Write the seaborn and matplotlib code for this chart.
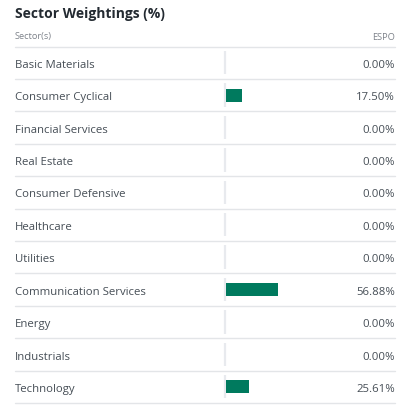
import seaborn as sns
import matplotlib.pyplot as plt
import pandas as pd
from matplotlib.transforms import blended_transform_factory

sectors = ["Basic Materials", "Consumer Cyclical", "Financial Services", "Real Estate",
           "Consumer Defensive", "Healthcare", "Utilities", "Communication Services",
           "Energy", "Industrials", "Technology"]
weights = [0.00, 17.50, 0.00, 0.00, 0.00, 0.00, 0.00, 56.88, 0.00, 0.00, 25.61]
fund = "ESPO"

df = pd.DataFrame({"sector": sectors, "weight": weights})

sns.set_theme(style="white")
plt.rcParams["font.family"] = ["Open Sans", "DejaVu Sans"]

W, H = 405, 414
fig = plt.figure(figsize=(W / 100, H / 100), dpi=100)
x0, x1 = 225.5, 395
top, bottom = 47.5, 404
ax = fig.add_axes([x0 / W, 1 - bottom / H, (x1 - x0) / W, (bottom - top) / H])

sns.barplot(data=df, x="weight", y="sector", orient="h", color="#007a5e",
            saturation=1, width=0.40, linewidth=0, ax=ax)
ax.set_xlim(0, (x1 - x0) / 0.925)
ax.set_ylim(len(sectors) - 0.5, -0.5)
ax.axis("off")

# thin gray baseline at the start of each bar cell
rows = list(range(len(sectors)))
ax.vlines([-0.6] * len(rows), [i - 0.36 for i in rows], [i + 0.36 for i in rows],
          color="#e8eaee", lw=1.6, zorder=0, capstyle="butt", clip_on=False)

tr = blended_transform_factory(fig.transFigure, ax.transData)
for i, (s, w) in enumerate(zip(sectors, weights)):
    ax.text(15 / W, i + 0.05, s, transform=tr, ha="left", va="center",
            fontsize=8.2, color="#464e56")
    ax.text(x1 / W, i + 0.05, f"{w:.2f}%", transform=tr, ha="right", va="center",
            fontsize=8.2, color="#464e56")
    ax.plot([15 / W, x1 / W], [i + 0.5, i + 0.5], transform=tr, color="#e3e5e8",
            lw=1, clip_on=False)
ax.plot([15 / W, x1 / W], [-0.5, -0.5], transform=tr, color="#e3e5e8", lw=1, clip_on=False)

fig.text(15 / W, 1 - 14 / H, "Sector Weightings (%)", ha="left", va="center",
         fontsize=10, fontweight="bold", color="#232a31")
fig.text(15 / W, 1 - 37 / H, "Sector(s)", ha="left", va="center",
         fontsize=6.7, color="#7d828a")
fig.text(x1 / W, 1 - 37 / H, fund, ha="right", va="center",
         fontsize=6.7, color="#7d828a")

fig.savefig("out.png", dpi=100, facecolor="white")
